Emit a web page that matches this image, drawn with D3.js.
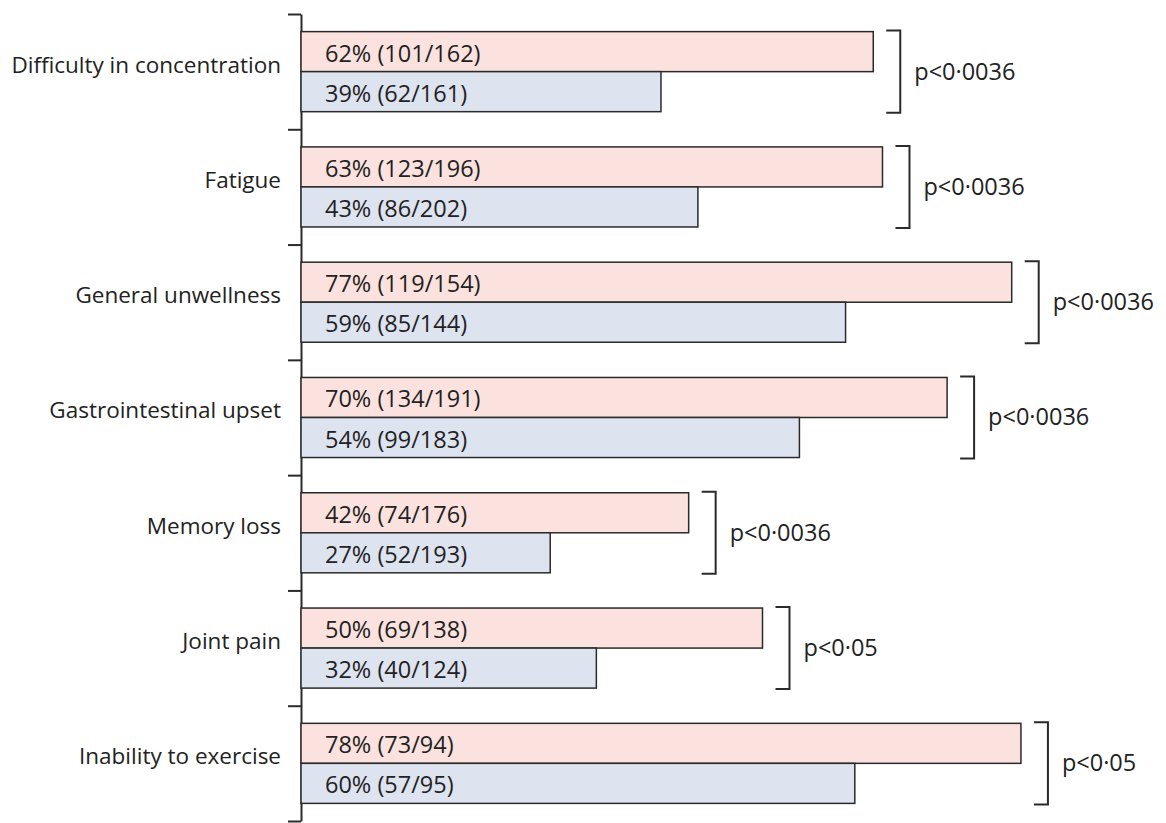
<!DOCTYPE html>
<html>
<head>
<meta charset="utf-8">
<script src="https://cdn.jsdelivr.net/npm/d3@7"></script>
<style>
  body { margin: 0; background: #fff; }
  text { font-family: "Open Sans", sans-serif; fill: #222; }
</style>
</head>
<body>
<div id="chart"></div>
<script>
// Symptom categories, top to bottom
const categories = [
    "Difficulty in concentration",
    "Fatigue",
    "General unwellness",
    "Gastrointestinal upset",
    "Memory loss",
    "Joint pain",
    "Inability to exercise"
];

// Upper (pink) bars
const pinkPct = [62, 63, 77, 70, 42, 50, 78];
const pinkCounts = ["101/162", "123/196", "119/154", "134/191", "74/176", "69/138", "73/94"];

// Lower (blue) bars
const bluePct = [39, 43, 59, 54, 27, 32, 60];
const blueCounts = ["62/161", "86/202", "85/144", "99/183", "52/193", "40/124", "57/95"];

// Significance per category
const pValues = ["p<0·0036", "p<0·0036", "p<0·0036", "p<0·0036", "p<0·0036", "p<0·05", "p<0·05"];

const series = ["pink", "blue"];
const fills = { pink: "#fbe2de", blue: "#dee3f0" };

const width = 1166, height = 823;

const svg = d3.select("#chart")
    .append("svg")
    .attr("width", width)
    .attr("height", height);

// Build rows from the arrays
const rows = categories.map((c, i) => ({
    cat: c,
    p: pValues[i],
    bars: [
        { s: "pink", v: pinkPct[i], n: pinkCounts[i] },
        { s: "blue", v: bluePct[i], n: blueCounts[i] }
    ]
}));

const plotTop = 14, plotBottom = 821, axisX = 301;

// Scales
const y = d3.scaleBand()
    .domain(categories)
    .range([plotTop, plotBottom])
    .padding(0);

const yInner = d3.scaleBand()
    .domain(series)
    .range([0, y.bandwidth()])
    .paddingInner(0)
    .paddingOuter(0.44);

const x = d3.scaleLinear()
    .domain([0, 100])
    .range([axisX, axisX + 923]);

// Left axis with ticks at the group boundaries
const yEdge = d3.scaleLinear()
    .domain([0, categories.length])
    .range([plotTop, plotBottom]);

svg.append("g")
    .attr("transform", `translate(${axisX},0)`)
    .call(d3.axisLeft(yEdge)
        .tickValues(d3.range(categories.length + 1))
        .tickFormat("")
        .tickSize(13)
        .tickSizeOuter(0))
    .call(g => g.selectAll("path, line").attr("stroke", "#2a2a2a").attr("stroke-width", 2));

const group = svg.selectAll("g.row")
    .data(rows)
    .enter()
    .append("g")
    .attr("class", "row")
    .attr("transform", d => `translate(0,${y(d.cat)})`);

// Category labels
group.append("text")
    .attr("x", 281)
    .attr("y", y.bandwidth() / 2 + 1)
    .attr("text-anchor", "end")
    .attr("font-size", 22.5)
    .text(d => d.cat);

// Bars
const bar = group.selectAll("g.bar")
    .data(d => d.bars)
    .enter()
    .append("g")
    .attr("class", "bar");

bar.append("rect")
    .attr("x", x(0))
    .attr("y", d => yInner(d.s))
    .attr("width", d => x(d.v) - x(0))
    .attr("height", yInner.bandwidth())
    .attr("fill", d => fills[d.s])
    .attr("stroke", "#2a2a2a")
    .attr("stroke-width", 1.5);

bar.append("text")
    .attr("x", x(0) + 24)
    .attr("y", d => yInner(d.s) + yInner.bandwidth() / 2 + 10)
    .attr("font-size", 23.5)
    .text(d => `${d.v}% (${d.n})`);

// Significance brackets
const hook = 14;
group.each(function (d) {
    const g = d3.select(this);
    const bx = x(d.bars[0].v) + 27;
    const y0 = yInner("pink") - 1;
    const y1 = yInner("blue") + yInner.bandwidth() + 1;
    g.append("path")
        .attr("d", `M${bx - hook},${y0}H${bx}V${y1}H${bx - hook}`)
        .attr("fill", "none")
        .attr("stroke", "#2a2a2a")
        .attr("stroke-width", 2);
    g.append("text")
        .attr("x", bx + 14)
        .attr("y", y.bandwidth() / 2 + 8)
        .attr("font-size", 23.5)
        .text(d.p);
});
</script>
</body>
</html>
